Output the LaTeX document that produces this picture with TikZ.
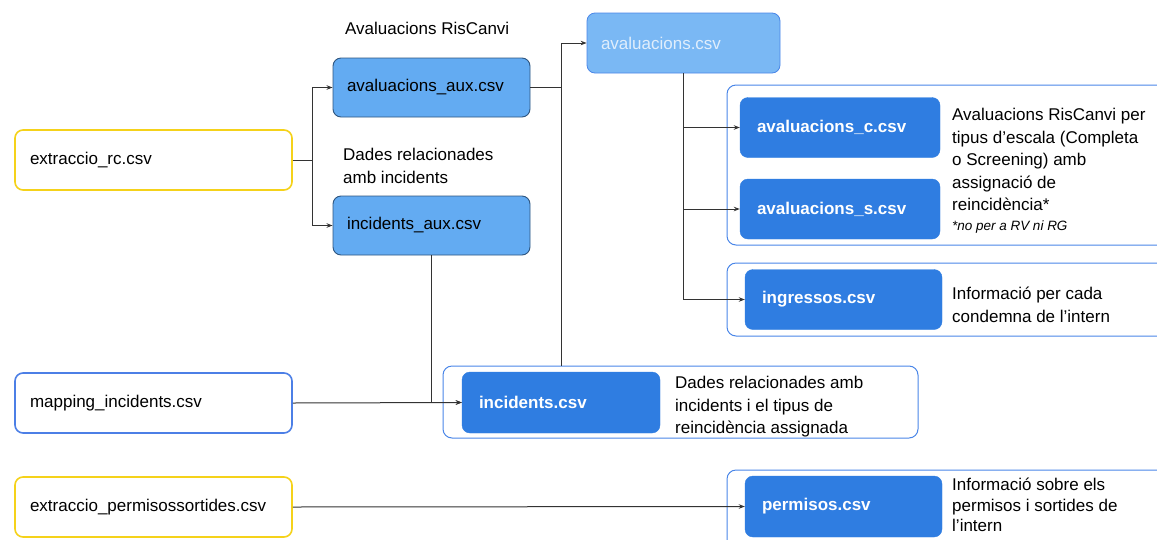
\documentclass[tikz,border=0pt]{standalone}
\usepackage{fontspec}
\setmainfont{Liberation Sans}
\usepackage{xcolor}
\definecolor{linedark}{HTML}{333333}
\definecolor{srcyellow}{HTML}{F5D21A}
\definecolor{srcblue}{HTML}{4C7FE6}
\definecolor{auxblue}{HTML}{63ABF2}
\definecolor{auxedge}{HTML}{2E557F}
\definecolor{outblue}{HTML}{2F7DE1}
\definecolor{groupblue}{HTML}{4A86E8}
\usetikzlibrary{arrows.meta,positioning,calc}

\begin{document}
\begin{tikzpicture}[x=1pt, y=-1pt,
    font=\fontsize{17}{22.5}\selectfont,
    srcbox/.style={draw=#1, line width=1.6pt, fill=white, rounded corners=8pt,
      minimum width=277pt, minimum height=60pt, text width=247pt, inner xsep=15pt, align=left},
    auxbox/.style={draw=auxedge, line width=0.9pt, fill=auxblue, rounded corners=8pt,
      minimum width=197pt, minimum height=59pt, text width=169pt, inner xsep=14pt, align=left},
    outbox/.style={draw=outblue, fill=outblue, rounded corners=8pt, text=white, font=\fontsize{17}{22}\selectfont\bfseries,
      minimum width=#1, minimum height=60pt, text width=#1-34pt, inner xsep=17pt, align=left},
    groupbox/.style={draw=groupblue, line width=1pt, fill=white, rounded corners=9pt},
    desc/.style={anchor=north west, align=left, inner sep=0pt},
    arr/.style={-{Stealth[length=6pt,width=4.5pt]}, draw=linedark, line width=1pt},
    lnk/.style={draw=linedark, line width=1pt}]
  \useasboundingbox (0,0) rectangle (1157,539);

  % group frames
  \node[groupbox, minimum width=475pt, minimum height=72pt] (gInc) at (680.5,402) {};
  \node[groupbox, minimum width=443pt, minimum height=160pt] (gAval) at (948.5,165) {};
  \node[groupbox, minimum width=443pt, minimum height=73pt] (gIngr) at (948.5,299.5) {};
  \node[groupbox, minimum width=443pt, minimum height=80pt] (gPerm) at (948.5,510) {};

  % sources
  \node[srcbox=srcyellow] (rc) at (153.5,160) {extraccio\_rc.csv};
  \node[srcbox=srcblue] (mapping) at (153.5,403) {mapping\_incidents.csv};
  \node[srcbox=srcyellow] (permsrc) at (153.5,507) {extraccio\_permisossortides.csv};

  % intermediate files
  \node[anchor=west, inner sep=0pt] (lblAval) at (345,28) {Avaluacions RisCanvi};
  \node[auxbox] (avalaux) at (431.5,87.5) {avaluacions\_aux.csv};
  \node[anchor=north west, align=left, inner sep=0pt] (lblInc) at (343,148) {Dades relacionades\\amb incidents};
  \node[auxbox] (incaux) at (431.5,225.5) {incidents\_aux.csv};
  \node[draw=groupblue, line width=0.8pt, fill=auxblue!85!white, rounded corners=8pt, text=white!80!auxblue,
    minimum width=193pt, minimum height=60pt, text width=165pt, inner xsep=14pt, align=left] (aval) at (683.5,43) {avaluacions.csv};

  % outputs
  \node[outbox=200pt] (avalc) at (840,127.5) {avaluacions\_c.csv};
  \node[outbox=200pt] (avals) at (840,209) {avaluacions\_s.csv};
  \node[outbox=197pt] (ingressos) at (843.5,299.5) {ingressos.csv};
  \node[outbox=198pt, minimum height=61pt] (incidents) at (561,402.5) {incidents.csv};
  \node[outbox=197pt, minimum height=61pt] (permisos) at (843.5,506.5) {permisos.csv};

  % descriptions
  \node[desc] (descAval) at (952,108) {Avaluacions RisCanvi per\\tipus d'escala (Completa\\o Screening) amb\\assignació de\\reincidència*\\[-3pt]{\fontsize{13.5}{16}\selectfont\itshape *no per a RV ni RG}};
  \node[desc] (descIngr) at (952,287) {Informació per cada\\condemna de l'intern};
  \node[desc] (descInc) at (675,376) {Dades relacionades amb\\incidents i el tipus de\\reincidència assignada};
  \node[desc, font=\fontsize{17}{20.5}\selectfont] (descPerm) at (952,478) {Informació sobre els\\permisos i sortides de\\l'intern};

  % connectors
  \draw[arr] (rc.east) -- ++(20,0) |- (avalaux.west);
  \draw[arr] (rc.east) -- ++(20,0) |- (incaux.west);
  \coordinate (busAval) at (incidents.north |- avalaux.east);
  \draw[lnk] (avalaux.east) -- (busAval);
  \draw[arr] (gInc.north -| incidents.north) |- (aval.west);
  \draw[arr] (incaux.south) |- (incidents.west);
  \draw[arr] (mapping.east) -- (incidents.west);
  \draw[arr] (aval.south) |- (avalc.west);
  \draw[arr] (aval.south) |- (avals.west);
  \draw[arr] (aval.south) |- (ingressos.west);
  \draw[arr] (permsrc.east) -- (permisos.west);
\end{tikzpicture}
\end{document}
